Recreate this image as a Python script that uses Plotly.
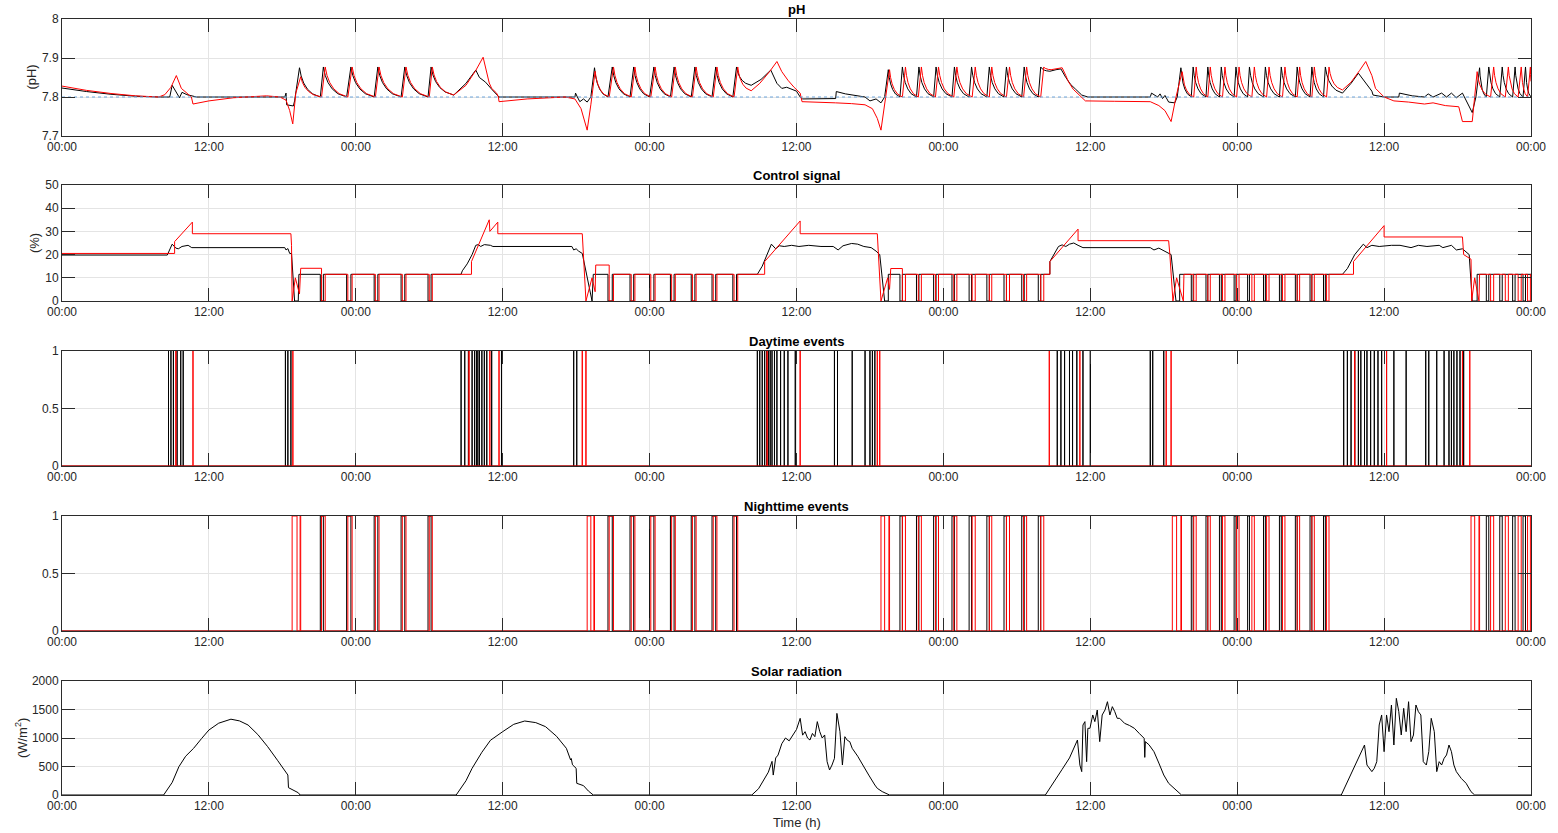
import plotly.graph_objects as go

# ---------------- axis / labels ----------------
tick_hours = [0, 12, 24, 36, 48, 60, 72, 84, 96, 108, 120]
tick_labels = ["00:00", "12:00", "00:00", "12:00", "00:00", "12:00",
               "00:00", "12:00", "00:00", "12:00", "00:00"]
titles = ["pH", "Control signal", "Daytime events", "Nighttime events", "Solar radiation"]
ylabels = ["(pH)", "(%)", "", "", "(W/m<sup>2</sup>)"]
ph_ticks = [7.7, 7.8, 7.9, 8.0]
ph_ticktext = ["7.7", "7.8", "7.9", "8"]
ctrl_ticks = [0, 10, 20, 30, 40, 50]
ev_ticks = [0, 0.5, 1]
ev_ticktext = ["0", "0.5", "1"]
sol_ticks = [0, 500, 1000, 1500, 2000]
ph_setpoint = 7.8

# ---------------- night "off" intervals (h) ----------------
red_off_n1 = [(21.2, 21.5), (23.35, 23.7), (25.6, 25.9), (27.8, 28.1), (30.0, 30.25)]
blk_off_n1 = [(21.1, 21.35), (23.25, 23.6), (25.5, 25.8), (27.7, 28.0), (29.9, 30.15)]
red_off_n2 = [(44.7, 45.05), (46.5, 46.8), (48.1, 48.45), (49.8, 50.1), (51.5, 51.8),
              (53.2, 53.5), (54.9, 55.2)]
blk_off_n2 = [(44.6, 44.95), (46.4, 46.7), (48.0, 48.35), (49.7, 50.0), (51.4, 51.7),
              (53.1, 53.4), (54.8, 55.1)]
red_off_n3 = [(68.65, 68.9), (69.95, 70.2), (71.35, 71.6), (72.85, 73.1), (74.35, 74.6),
              (75.75, 75.95), (77.15, 77.4), (78.55, 78.8), (79.95, 80.2)]
blk_off_n3 = [(68.45, 68.65), (69.8, 70.0), (71.2, 71.4), (72.7, 72.9), (74.1, 74.3),
              (75.55, 75.75), (76.95, 77.15), (78.4, 78.6), (79.75, 79.95)]
red_off_n4 = [(92.45, 92.65), (93.6, 93.8), (94.8, 95.0), (95.95, 96.15), (97.2, 97.4),
              (98.4, 98.6), (99.7, 99.9), (100.9, 101.1), (102.1, 102.3), (103.3, 103.5)]
blk_off_n4 = [(92.25, 92.4), (93.45, 93.6), (94.55, 94.7), (95.75, 95.9), (96.85, 97.0),
              (98.15, 98.3), (99.45, 99.6), (100.75, 100.9), (101.95, 102.1), (103.05, 103.2)]
red_off_n5 = [(116.7, 116.95), (117.9, 118.15), (118.95, 119.2), (119.72, 119.95)]
blk_off_n5 = [(116.35, 116.55), (117.45, 117.65), (118.5, 118.7), (119.35, 119.55)]
red_dusk_events = [(18.8, 19.2), (19.45, 19.5), (42.9, 43.2), (43.45, 43.5), (66.9, 67.2),
                   (67.55, 67.6), (90.7, 91.05), (91.4, 91.45), (115.1, 115.4), (115.75, 115.8)]

# ---------------- pH keypoints ----------------
ph_peak = 7.877
ph_red_d1 = [(0, 7.828), (2, 7.817), (4, 7.809), (6, 7.803), (7.9, 7.800), (8.4, 7.806),
             (8.9, 7.825), (9.34, 7.855), (9.75, 7.822), (10.2, 7.81), (10.57, 7.80),
             (10.7, 7.782), (12, 7.79), (14, 7.798), (16.7, 7.803), (17.8, 7.80),
             (18.3, 7.792), (18.6, 7.765), (18.85, 7.731), (19.1, 7.81), (19.5, 7.852)]
ph_red_d2 = [(32.0, 7.805), (33.0, 7.83), (33.8, 7.868), (34.4, 7.902), (34.9, 7.836),
             (35.1, 7.822), (35.5, 7.81), (35.65, 7.80), (35.7, 7.788), (36.5, 7.791),
             (38, 7.795), (41.1, 7.80), (41.9, 7.795), (42.4, 7.77), (42.7, 7.74),
             (42.9, 7.715), (43.2, 7.78), (43.55, 7.866)]
ph_red_d3 = [(56.3, 7.816), (57.0, 7.835), (57.8, 7.865), (58.4, 7.891), (58.8, 7.865),
             (59.3, 7.843), (59.8, 7.825), (60.3, 7.81), (60.45, 7.788), (62, 7.787),
             (63.2, 7.785), (64.5, 7.783), (65.6, 7.78), (66.2, 7.77), (66.6, 7.745),
             (66.9, 7.715), (67.2, 7.78), (67.6, 7.87)]
ph_red_d4 = [(80.8, 7.87), (81.3, 7.873), (81.7, 7.875), (82.0, 7.855), (82.2, 7.84),
             (82.6, 7.82), (83.0, 7.807), (83.3, 7.80), (83.6, 7.79), (86, 7.789),
             (88.9, 7.788), (89.6, 7.778), (90.1, 7.765), (90.6, 7.737), (91.0, 7.80),
             (91.5, 7.865)]
ph_red_d5 = [(104.6, 7.818), (105.3, 7.838), (106.0, 7.868), (106.5, 7.891), (107.0, 7.855),
             (107.3, 7.822), (108.0, 7.80), (108.8, 7.79), (110, 7.787), (111.3, 7.782),
             (112, 7.785), (113, 7.778), (114.1, 7.775), (114.4, 7.737), (115.2, 7.737),
             (115.4, 7.80), (115.6, 7.865)]
ph_red_end = (120.0, 7.84)

ph_blk_d1 = [(0, 7.823), (2, 7.814), (4, 7.807), (6, 7.802), (7.9, 7.80), (8.8, 7.80),
             (9.0, 7.83), (9.3, 7.815), (9.6, 7.798), (9.8, 7.812), (10.2, 7.806),
             (11, 7.80), (18.2, 7.80), (18.3, 7.81), (18.35, 7.78), (18.9, 7.777),
             (19.0, 7.79), (19.4, 7.875)]
ph_blk_d2 = [(32.0, 7.805), (33.0, 7.835), (33.8, 7.869), (34.1, 7.85), (34.6, 7.838),
             (35.1, 7.82), (35.7, 7.80), (41.9, 7.80), (41.95, 7.81), (42.1, 7.80),
             (42.3, 7.788), (42.6, 7.795), (42.9, 7.787), (43.2, 7.80), (43.5, 7.875)]
ph_blk_d3 = [(56.3, 7.83), (57.1, 7.845), (57.9, 7.869), (58.4, 7.835), (58.8, 7.822),
             (59.2, 7.825), (60.0, 7.815), (60.3, 7.80), (60.5, 7.795), (63.2, 7.796),
             (63.25, 7.814), (64.0, 7.808), (65.6, 7.80), (66.0, 7.79), (66.5, 7.795),
             (66.9, 7.785), (67.2, 7.80), (67.5, 7.87)]
ph_blk_d4 = [(80.7, 7.866), (81.2, 7.87), (81.6, 7.872), (82.0, 7.85), (82.4, 7.832),
             (82.8, 7.82), (83.3, 7.805), (83.8, 7.80), (88.9, 7.80), (89.0, 7.81),
             (89.5, 7.80), (89.7, 7.808), (89.9, 7.796), (90.1, 7.804), (90.4, 7.787),
             (90.9, 7.785), (91.1, 7.80), (91.4, 7.875)]
ph_blk_d5 = [(104.6, 7.81), (105.3, 7.835), (105.9, 7.861), (106.5, 7.835), (107.0, 7.815),
             (107.1, 7.805), (108, 7.80), (109.2, 7.80), (109.25, 7.81), (110.3, 7.803),
             (111.3, 7.80), (111.6, 7.808), (112.0, 7.80), (112.7, 7.81), (113.1, 7.80),
             (113.5, 7.81), (113.9, 7.798), (114.4, 7.81), (114.8, 7.785), (115.2, 7.76),
             (115.5, 7.80), (115.8, 7.875)]
ph_blk_end = (120.0, 7.80)

# ---------------- control keypoints ----------------
ctrl_level = 11.5
ctrl_red_d1 = [(0, 20.5), (9.2, 20.5), (9.2, 25.6), (10.65, 34), (10.65, 29), (18.7, 29),
               (18.75, 24), (18.8, 0), (19.06, 10), (19.4, 3), (19.5, 14.1), (21.2, 14.1)]
ctrl_red_d2 = [(33.45, 17), (34.9, 35), (34.95, 30), (35.6, 34), (35.6, 29), (42.5, 29),
               (42.55, 24), (42.8, 0), (43.3, 10), (43.55, 4), (43.6, 15.5), (44.7, 15.5)]
ctrl_red_d3 = [(57.4, 17), (60.3, 34.5), (60.3, 29), (66.6, 29), (66.7, 20), (66.9, 0),
               (67.45, 10), (67.6, 5), (67.7, 14), (68.65, 14)]
ctrl_red_d4 = [(80.7, 17), (83.0, 31), (83.0, 26), (90.4, 26), (90.5, 20), (90.75, 0),
               (91.05, 10), (91.6, 0), (91.65, 11.5)]
ctrl_red_d5 = [(105.5, 17), (108.0, 32.5), (108.0, 27.6), (114.4, 27.6), (114.5, 20),
               (115.1, 18), (115.15, 0), (115.4, 10), (115.75, 0), (115.8, 11.5)]
ctrl_blk_d1 = [(0, 19.8), (8.6, 19.8), (9.0, 24.5), (9.3, 22.8), (9.5, 22.5), (9.8, 23.5),
               (10.3, 24), (10.6, 23), (18.2, 23), (18.3, 22), (18.45, 22.6), (18.6, 20.5),
               (18.75, 20.5), (19.0, 0), (19.3, 0), (19.35, 11.5)]
ctrl_blk_d2 = [(32.7, 13), (33.1, 16), (33.5, 20), (33.8, 24), (34.0, 24.3), (34.2, 23.5),
               (34.5, 24.3), (35.0, 24), (35.2, 23.5), (41.65, 23.5), (41.8, 22), (42.0, 22.5),
               (42.2, 21.5), (42.5, 20.5), (43.3, 0), (43.4, 11.5)]
ctrl_blk_d3 = [(57.2, 15), (57.5, 19), (57.95, 24.5), (58.3, 22.5), (58.6, 23.8), (59.0, 23.5),
               (59.6, 24), (60.2, 23.5), (61.0, 24), (62.0, 23.5), (63.0, 23.5), (63.4, 22),
               (63.8, 23.8), (64.5, 24.8), (65.0, 24.5), (65.5, 23.5), (66.1, 23), (66.5, 21.5),
               (66.8, 20), (67.2, 0), (67.5, 0), (67.5, 11.5)]
ctrl_blk_d4 = [(80.7, 17), (81.4, 23.5), (81.7, 24.2), (82.0, 23.5), (82.3, 24.5), (82.65, 25),
               (83.0, 24), (83.4, 23), (88.9, 23), (89.2, 22), (89.6, 22.8), (89.9, 22),
               (90.3, 21), (90.6, 20), (91.0, 0), (91.3, 0), (91.3, 11.5)]
ctrl_blk_d5 = [(105.0, 14), (105.6, 20), (106.3, 24.5), (106.6, 23), (107.0, 24), (107.6, 23.5),
               (108.6, 24), (109.3, 24), (110.2, 23), (110.8, 24), (111.5, 23.5), (112.5, 24),
               (112.8, 23), (113.5, 24), (113.9, 22), (114.4, 22.5), (114.95, 20), (115.2, 0),
               (115.6, 0), (115.6, 11.5)]
ctrl_night_ends_red = [33.45, 57.4, 80.7, 105.5, 120.0]
ctrl_night_ends_blk = [32.6, 56.8, 80.7, 104.6, 120.0]

# ---------------- daytime events (h) ----------------
red_day_events = [9.3, 10.7, 18.86, 33.25, 34.95, 35.7, 42.5, 42.8, 57.6, 60.3, 66.6, 66.8,
                  80.65, 83.15, 90.2, 90.6, 105.6, 108.2, 114.4, 115.0]
blk_day_events = [8.7, 8.9, 9.1, 9.4, 9.7, 9.9, 18.25, 18.45, 18.7,
                  32.6, 32.9, 33.2, 33.5, 33.7, 33.85, 33.97, 34.1, 34.3, 34.5, 34.7, 35.1, 35.9,
                  41.8, 42.05,
                  56.8, 57.0, 57.2, 57.4, 57.55, 57.7, 57.85, 58.0, 58.2, 58.4, 58.7, 59.0, 59.3,
                  59.9, 63.1, 63.35, 64.55, 65.6, 66.0, 66.2, 66.4,
                  81.3, 81.6, 81.9, 82.3, 82.55, 82.9, 83.4, 84.0, 88.9, 89.1, 90.0,
                  104.7, 105.0, 105.3, 105.6, 105.9, 106.1, 106.4, 106.6, 106.9, 107.2, 107.5,
                  107.8, 108.2, 108.8, 109.8, 111.4, 111.65, 112.3, 112.9, 113.3, 113.5, 113.7,
                  113.95, 114.2, 114.5]

# ---------------- solar radiation (h, W/m2) ----------------
sol_t = [0, 8.3, 9.0, 9.55, 10.1, 10.75, 11.4, 12.0, 12.8, 13.8, 14.5, 15.2, 16.0, 16.8, 17.6,
         18.45, 18.5, 18.9, 19.3, 19.45,
         32.2, 33.0, 33.5, 34.3, 35.0, 36.0, 36.9, 37.8, 38.7, 39.5, 40.4, 41.2, 41.5, 41.55,
         41.6, 41.7, 42.0, 42.05, 42.6, 43.0, 43.4,
         56.35, 56.9, 57.3, 57.7, 58.0, 58.1, 58.3, 58.49, 58.8, 59.1, 59.4, 59.7, 60.0, 60.3,
         60.5, 60.7, 60.9, 61.1, 61.3, 61.5, 61.7, 61.9, 62.1, 62.3, 62.5, 62.7, 62.9, 63.1,
         63.3, 63.55, 63.75, 63.95, 64.15, 64.35, 64.55, 65.0, 65.4, 65.9, 66.4, 66.6, 67.0,
         67.4, 67.6,
         80.33, 81.0, 81.7, 82.3, 82.75, 82.95, 83.15, 83.3, 83.4, 83.56, 83.7, 83.8, 83.97,
         84.2, 84.37, 84.57, 84.77, 84.97, 85.2, 85.4, 85.6, 85.8, 86.0, 86.2, 86.4, 86.8,
         87.2, 87.6, 88.0, 88.4, 88.45, 88.5, 88.8, 89.2, 89.6, 90.0, 90.4, 90.9, 91.45,
         104.5, 105.0, 105.4, 105.9, 106.4, 106.6, 107.0, 107.2, 107.4, 107.6, 107.8, 108.0,
         108.2, 108.4, 108.6, 108.8, 109.0, 109.2, 109.4, 109.6, 109.8, 110.0, 110.2, 110.4,
         110.6, 110.8, 111.0, 111.2, 111.45, 111.65, 111.85, 112.1, 112.3, 112.5, 112.7,
         112.9, 113.1, 113.3, 113.5, 113.7, 113.9, 114.3, 114.7, 115.1, 115.4, 120]
sol_v = [0, 0, 220, 497, 680, 819, 990, 1140, 1260, 1330, 1300, 1228, 1060, 848, 610,
         351, 129, 84, 40, 0,
         0, 250, 468, 750, 960, 1111, 1240, 1298, 1270, 1199, 1030, 819, 640, 614,
         640, 530, 468, 205, 164, 70, 0,
         0, 110, 250, 400, 590, 350, 650, 700, 900, 1000, 950, 1053, 1150, 1345,
         1050, 1111, 1000, 965, 1080, 1023, 1287, 1111, 1000, 1053, 585, 439, 526, 643,
         1432, 1111, 526, 1023, 960, 936, 819, 680, 526, 350, 175, 117, 60,
         29, 0,
         0, 230, 450, 650, 877, 965, 526, 410, 1228, 1287, 585, 1170, 1170,
         1404, 1287, 1491, 936, 1404, 1491, 1637, 1404, 1550, 1462, 1345, 1345, 1257,
         1220, 1170, 1080, 994, 660, 936, 880, 760, 560, 351, 205, 100, 0,
         0, 230, 410, 650, 877, 526, 410, 470, 585, 1228, 1404, 760,
         1404, 1111, 1579, 877, 1696, 1462, 1053, 1520, 1111, 1637, 936, 1053,
         1579, 1462, 1404, 585, 526, 760, 1345, 1111, 410, 585, 526,
         643, 702, 877, 760, 526, 410, 292, 205, 58, 0, 0]

# ---------------- drawing helpers (shape only) ----------------
DECAY_FRAC = [0.08, 0.2, 0.38, 0.62]
DECAY_W = [0.72, 0.48, 0.27, 0.11]


def decay(tp, vp, tn, vn):
    pts = [(tp + f * (tn - tp), vn + (vp - vn) * w) for f, w in zip(DECAY_FRAC, DECAY_W)]
    pts.append((tn, vn))
    return pts


def saw(tp, vp, offs):
    pts = []
    for a, b in offs:
        pts += decay(tp, vp, a, ph_setpoint)
        pts.append((b, ph_peak))
        tp, vp = b, ph_peak
    return pts


def build_ph(days, nights, end):
    pts = list(days[0])
    for i, offs in enumerate(nights):
        pts += saw(pts[-1][0], pts[-1][1], offs)
        nxt = days[i + 1] if i + 1 < len(days) else [end]
        pts += decay(pts[-1][0], pts[-1][1], nxt[0][0], nxt[0][1])
        pts += list(nxt[1:])
    return pts


def pulses(offs, level, t_end):
    pts = []
    for a, b in offs:
        pts += [(a, level), (a, 0), (b, 0), (b, level)]
    pts.append((t_end, level))
    return pts


def build_ctrl(days, nights, ends):
    pts = []
    for d, offs, e in zip(days, nights, ends):
        pts += d
        pts += pulses(offs, ctrl_level, e)
    return pts


def event_series(intervals):
    pts = [(0, 0)]
    for a, b in sorted(intervals):
        pts += [(a, 0), (a, 1), (b, 1), (b, 0)]
    pts.append((120, 0))
    return pts


def xy(pts):
    return [p[0] for p in pts], [p[1] for p in pts]


red_nights = [red_off_n1, red_off_n2, red_off_n3, red_off_n4, red_off_n5]
blk_nights = [blk_off_n1, blk_off_n2, blk_off_n3, blk_off_n4, blk_off_n5]

ph_red = build_ph([ph_red_d1, ph_red_d2, ph_red_d3, ph_red_d4, ph_red_d5], red_nights, ph_red_end)
ph_blk = build_ph([ph_blk_d1, ph_blk_d2, ph_blk_d3, ph_blk_d4, ph_blk_d5], blk_nights, ph_blk_end)
ctrl_red = build_ctrl([ctrl_red_d1, ctrl_red_d2, ctrl_red_d3, ctrl_red_d4, ctrl_red_d5],
                      red_nights, ctrl_night_ends_red)
ctrl_blk = build_ctrl([ctrl_blk_d1, ctrl_blk_d2, ctrl_blk_d3, ctrl_blk_d4, ctrl_blk_d5],
                      blk_nights, ctrl_night_ends_blk)
day_red = event_series([(t, t) for t in red_day_events])
day_blk = event_series([(t, t) for t in blk_day_events])
night_red = event_series(red_dusk_events + [iv for n in red_nights for iv in n])
night_blk = event_series([iv for n in blk_nights for iv in n])

# ---------------- figure ----------------
W, H = 1558, 833
ML, MR, MT, MB = 62, 23, 19, 38
PH = H - MT - MB
panels_px = [(19, 136), (185, 301), (351, 466), (516, 631), (681, 795)]


def dom(top, bot):
    return [(H - MB - bot) / PH, (H - MB - top) / PH]


fig = go.Figure()
BLK = "#000000"
RED = "#ff0000"


def add(pts, color, k, width=1.0):
    x, y = xy(pts)
    fig.add_trace(go.Scatter(x=x, y=y, mode="lines", line=dict(color=color, width=width),
                             xaxis="x" if k == 1 else f"x{k}", yaxis="y" if k == 1 else f"y{k}",
                             showlegend=False, hoverinfo="skip"))


add(ph_blk, BLK, 1)
add(ph_red, RED, 1)
fig.add_trace(go.Scatter(x=[0, 120], y=[ph_setpoint, ph_setpoint], mode="lines",
                         line=dict(color="#6fa6dc", width=1.2, dash="dot"),
                         xaxis="x", yaxis="y", showlegend=False, hoverinfo="skip"))
add(ctrl_blk, BLK, 2)
add(ctrl_red, RED, 2)
add(day_blk, BLK, 3)
add(day_red, RED, 3)
add(night_blk, BLK, 4)
add(night_red, RED, 4)
add(list(zip(sol_t, sol_v)), BLK, 5)

AX = "#2b2b2b"
GRID = "#e4e4e4"
FONT = "Liberation Sans, Arial, sans-serif"
TXT = "#262626"
layout = dict(width=W, height=H, margin=dict(l=ML, r=MR, t=MT, b=MB),
              paper_bgcolor="white", plot_bgcolor="white",
              font=dict(family=FONT, size=12, color=TXT), annotations=[])

yspecs = [
    dict(range=[7.7, 8.0], tickvals=ph_ticks, ticktext=ph_ticktext),
    dict(range=[0, 50], tickvals=ctrl_ticks),
    dict(range=[0, 1], tickvals=ev_ticks, ticktext=ev_ticktext),
    dict(range=[0, 1], tickvals=ev_ticks, ticktext=ev_ticktext),
    dict(range=[0, 2000], tickvals=sol_ticks),
]
ylabel_x = [-31, -28, 0, 0, -41]
for i, (top, bot) in enumerate(panels_px):
    k = i + 1
    xname = "xaxis" if k == 1 else f"xaxis{k}"
    yname = "yaxis" if k == 1 else f"yaxis{k}"
    d = dom(top, bot)
    layout[xname] = dict(domain=[0, 1], range=[0, 120], tickvals=tick_hours, ticktext=tick_labels,
                         anchor="y" if k == 1 else f"y{k}", showline=True, linecolor=AX,
                         linewidth=1, mirror="allticks", ticks="inside", ticklen=13,
                         tickcolor=AX, tickwidth=1, showgrid=True, gridcolor=GRID, gridwidth=1,
                         zeroline=False, tickfont=dict(size=12, color=TXT))
    ys = dict(domain=d, anchor="x" if k == 1 else f"x{k}", showline=True, linecolor=AX,
              linewidth=1, mirror="allticks", ticks="inside", ticklen=13, tickcolor=AX,
              tickwidth=1, showgrid=True, gridcolor=GRID, gridwidth=1, zeroline=False,
              tickfont=dict(size=12, color=TXT))
    ys.update(yspecs[i])
    layout[yname] = ys
    layout["annotations"].append(dict(text=f"<b>{titles[i]}</b>", xref="paper", yref="paper",
                                      x=0.5, y=d[1], xanchor="center", yanchor="bottom",
                                      showarrow=False, font=dict(size=13, color="#000000")))
    if ylabels[i]:
        layout["annotations"].append(dict(text=ylabels[i], xref="paper", yref="paper",
                                          x=ylabel_x[i] / (W - ML - MR), y=(d[0] + d[1]) / 2,
                                          xanchor="center", yanchor="middle", textangle=-90,
                                          showarrow=False, font=dict(size=13, color=TXT)))
layout["annotations"].append(dict(text="Time (h)", xref="paper", yref="paper", x=0.5, y=0,
                                  yshift=-27, xanchor="center", yanchor="middle",
                                  showarrow=False, font=dict(size=13, color=TXT)))
fig.update_layout(**layout)
fig.write_html("out.html", config={"displayModeBar": False},
               post_script="document.body.style.margin='0';")
